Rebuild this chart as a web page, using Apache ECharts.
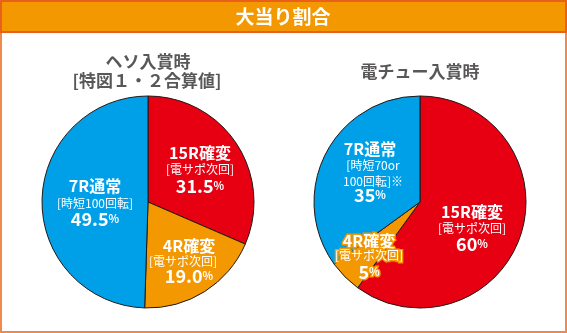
<!DOCTYPE html>
<html><head><meta charset="utf-8">
<script src="https://cdn.jsdelivr.net/npm/echarts@6/dist/echarts.min.js"></script>
<style>html,body{margin:0;padding:0;background:#fff}#c{width:567px;height:333px}</style>
</head><body><div id="c"></div>
<script>
const chartTitle = '大当り割合';
const categories = ['15R確変', '4R確変', '7R通常'];
const subLabels = ['[電サポ次回]', '[電サポ次回]', '[時短100回転]'];
const hesoTitle = ['ヘソ入賞時', '[特図１・２合算値]'];
const hesoValues = [31.5, 19.0, 49.5];
const denchuTitle = '電チュー入賞時';
const denchuSubLabels = ['[電サポ次回]', '[電サポ次回]', '[時短70or\n100回転]※'];
const denchuValues = [60, 5, 35];
const colors = ['#E60012', '#F39800', '#00A0E9'];

const FONT = '"Noto Sans CJK JP", "Noto Sans", sans-serif';
const chart = echarts.init(document.getElementById('c'), null, {renderer: 'canvas'});

function pct(v, dec) { return dec ? v.toFixed(1) : String(v); }

function labelGroup(x, ys, name, sub, val, dec, outline, subX) {
  const base = {fill: '#fff', fontFamily: FONT, fontWeight: 'bold', align: 'center', verticalAlign: 'middle'};
  const ol = outline ? {stroke: '#F39800', lineWidth: 3} : {};
  const subLines = sub.split('\n');
  const els = [];
  els.push({type: 'text', x: x, y: ys[0], style: Object.assign({}, base, ol, {text: name, fontSize: 16})});
  subLines.forEach((s, i) => {
    els.push({type: 'text', x: subX !== undefined ? subX : x, y: ys[1] + i * 16, style: Object.assign({}, base, ol, {text: s, fontSize: 12, fontWeight: 'normal'})});
  });
  const rs = outline ? {stroke: '#F39800', lineWidth: 3} : {};
  els.push({type: 'text', x: x, y: ys[2], style: Object.assign({}, base, {
    text: '{a|' + pct(val, dec) + '}{b|%}',
    rich: {
      a: Object.assign({fontSize: 18, fontWeight: 'bold', fill: '#fff', fontFamily: FONT}, rs),
      b: Object.assign({fontSize: 11, fontWeight: 'bold', fill: '#fff', fontFamily: FONT}, rs)
    }
  })});
  return els;
}

const graphics = [
  {type: 'rect', shape: {x: 1, y: 1, width: 565, height: 331}, style: {fill: 'none', stroke: '#F08A4B', lineWidth: 2}, z: 10},
  {type: 'rect', shape: {x: 1, y: 1, width: 565, height: 31}, style: {fill: '#F39800', stroke: '#E8601C', lineWidth: 2}, z: 11},
  {type: 'text', x: 283, y: 17, z: 12, style: {text: chartTitle, fill: '#fff', fontSize: 19, fontWeight: 'bold', fontFamily: FONT, align: 'center', verticalAlign: 'middle'}},
  {type: 'text', x: 148, y: 62, style: {text: hesoTitle[0], fill: '#595757', fontSize: 17, fontWeight: 'bold', fontFamily: FONT, align: 'center', verticalAlign: 'middle'}},
  {type: 'text', x: 147, y: 81, style: {text: hesoTitle[1], fill: '#595757', fontSize: 17, fontWeight: 'bold', fontFamily: FONT, align: 'center', verticalAlign: 'middle'}},
  {type: 'text', x: 420, y: 72, style: {text: denchuTitle, fill: '#595757', fontSize: 17, fontWeight: 'bold', fontFamily: FONT, align: 'center', verticalAlign: 'middle'}}
];

const labelEls = [].concat(
  labelGroup(200, [153, 169, 186], categories[0], subLabels[0], hesoValues[0], true, false),
  labelGroup(189, [246, 261, 276], categories[1], subLabels[1], hesoValues[1], true, false, 183),
  labelGroup(95, [186, 203, 219], categories[2], subLabels[2], hesoValues[2], true, false),
  labelGroup(472, [212, 228, 244], categories[0], denchuSubLabels[0], denchuValues[0], false, false),
  labelGroup(369, [241, 255, 272], categories[1], denchuSubLabels[1], denchuValues[1], false, true),
  labelGroup(370, [149, 165, 195], categories[2], denchuSubLabels[2], denchuValues[2], false, false, 373)
);
labelEls.forEach(e => { e.z = 20; });

function pieSeries(cx, values) {
  return {
    type: 'pie', center: [cx, 202], radius: [0, 106], startAngle: 90, clockwise: true,
    silent: true, label: {show: false}, labelLine: {show: false},
    itemStyle: {borderColor: '#231815', borderWidth: 1},
    data: values.map((v, i) => ({name: categories[i], value: v, itemStyle: {color: colors[i]}}))
  };
}

chart.setOption({
  animation: false,
  backgroundColor: '#fff',
  series: [pieSeries(148, hesoValues), pieSeries(420, denchuValues)],
  graphic: graphics.concat(labelEls)
});
</script></body></html>
